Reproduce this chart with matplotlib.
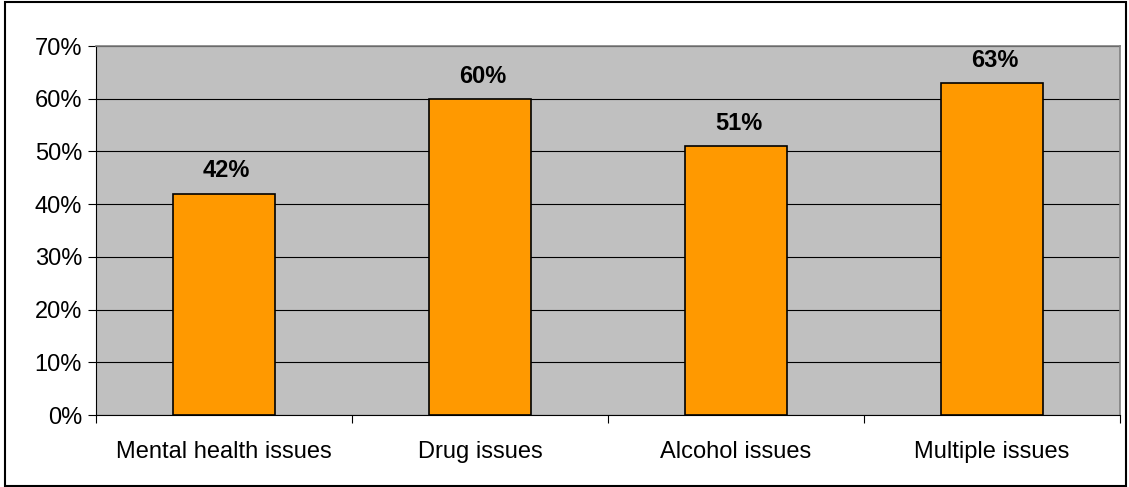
import matplotlib.pyplot as plt
from matplotlib.ticker import FixedLocator, NullFormatter, FixedFormatter
from matplotlib.patches import Rectangle

categories = ['Mental health issues', 'Drug issues', 'Alcohol issues', 'Multiple issues']
values = [42, 60, 51, 63]
yticks = [0, 10, 20, 30, 40, 50, 60, 70]

plt.rcParams['font.family'] = ['Liberation Sans', 'DejaVu Sans']

fig = plt.figure(figsize=(11.29, 4.87), dpi=100)
fig.patches.append(Rectangle((0.004, 0.003), 0.993, 0.993, transform=fig.transFigure,
                             fill=False, edgecolor='black', linewidth=1.5))

ax = fig.add_axes([96 / 1129, 1 - 415 / 487, (1120 - 96) / 1129, (415 - 46) / 487])
ax.set_facecolor('#c0c0c0')

x = list(range(len(categories)))
ax.bar(x, values, width=0.4, color='#ff9900', edgecolor='black', linewidth=1.2, zorder=3)

for i, v in enumerate(values):
    ax.annotate(f'{v}%', (i, v), xytext=(2, 8), textcoords='offset points',
                ha='center', va='bottom', fontsize=17, fontweight='bold', zorder=4)

ax.set_xlim(-0.5, len(categories) - 0.5)
ax.set_ylim(0, 70)
ax.set_yticks(yticks)
ax.set_yticklabels([f'{t}%' for t in yticks])
ax.yaxis.grid(True, color='black', linewidth=0.8, zorder=1)
ax.set_axisbelow(True)

# boundaries as major ticks, labels on minor ticks
ax.xaxis.set_major_locator(FixedLocator([i - 0.5 for i in range(len(categories) + 1)]))
ax.xaxis.set_major_formatter(NullFormatter())
ax.xaxis.set_minor_locator(FixedLocator(x))
ax.xaxis.set_minor_formatter(FixedFormatter(categories))
ax.tick_params(axis='x', which='major', length=6, width=0.8, direction='out')
ax.tick_params(axis='x', which='minor', length=0, pad=19, labelsize=17)
ax.tick_params(axis='y', length=6, width=0.8, direction='out', labelsize=17, pad=4)

for side in ['top', 'right']:
    ax.spines[side].set_color('#808080')
    ax.spines[side].set_linewidth(1.2)
for side in ['left', 'bottom']:
    ax.spines[side].set_color('black')
    ax.spines[side].set_linewidth(0.8)

plt.savefig('out.png', dpi=100)
